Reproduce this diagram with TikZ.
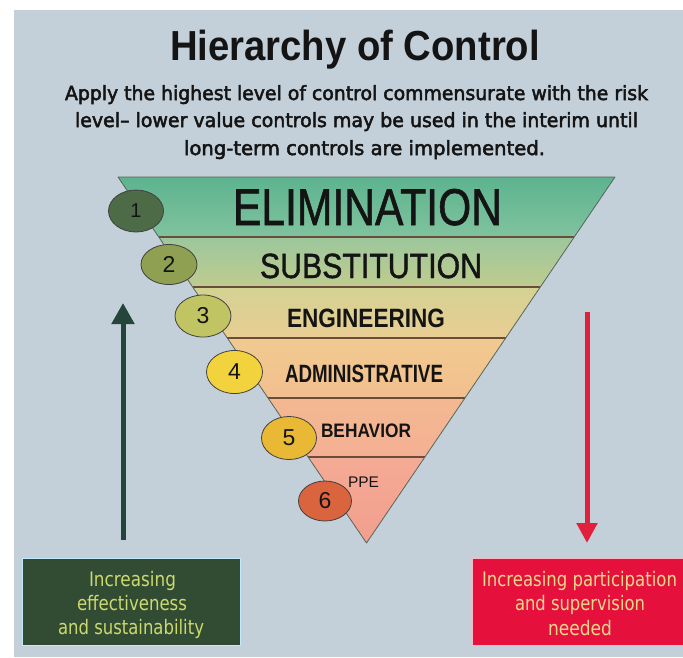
\documentclass[tikz,border=0pt]{standalone}
\usepackage{fontspec}
\usepackage{graphicx}
\setmainfont{Liberation Sans}
\newfontfamily\lib{Liberation Sans}
\newfontfamily\libfb[FakeBold=1.3]{Liberation Sans}
\newfontfamily\dv{DejaVu Sans}
\newfontfamily\dvfb[FakeBold=2.6]{DejaVu Sans}
\usetikzlibrary{arrows.meta,calc,shapes.geometric}

\definecolor{bg}{HTML}{C3D0DA}
\definecolor{bAt}{HTML}{5DB38F}\definecolor{bAb}{HTML}{80C39E}
\definecolor{bBt}{HTML}{9CC79C}\definecolor{bBb}{HTML}{BFCC8F}
\definecolor{bCt}{HTML}{D3D293}\definecolor{bCb}{HTML}{EACD92}
\definecolor{bDt}{HTML}{F1CA90}\definecolor{bDb}{HTML}{F2BF8E}
\definecolor{bEt}{HTML}{F3B991}\definecolor{bEb}{HTML}{F4AF93}
\definecolor{bFt}{HTML}{F4AB95}\definecolor{bFb}{HTML}{F39E8E}
\definecolor{eA}{HTML}{4D6B47}\definecolor{eB}{HTML}{8FA052}
\definecolor{eC}{HTML}{C0C462}\definecolor{eD}{HTML}{F2D33E}
\definecolor{eE}{HTML}{E9B935}\definecolor{eF}{HTML}{D9643E}
\definecolor{divcol}{HTML}{6B4C3B}
\definecolor{edgecol}{HTML}{55665A}
\definecolor{garrow}{HTML}{24463A}
\definecolor{rarrow}{HTML}{E0203C}
\definecolor{gboxcol}{HTML}{324C34}
\definecolor{rboxcol}{HTML}{E5103C}
\definecolor{gtext}{HTML}{CCD96E}
\definecolor{rtext}{HTML}{F2D88C}
\definecolor{txtdark}{HTML}{141414}

\newcommand{\fitw}[2]{\resizebox{#1}{\height}{#2}}

\begin{document}
\begin{tikzpicture}[x=1pt,y=-1pt,
  txt/.style={anchor=base west,inner sep=0pt,outer sep=0pt,text=txtdark},
  divider/.style={draw=divcol,line width=1.4pt},
  rung/.style={ellipse,draw=black!75,line width=0.8pt,inner sep=0pt,
    minimum width=56pt,minimum height=42pt,text=txtdark,
    font=\lib\fontsize{23}{23}\selectfont},
  arr/.style={line width=5pt,-{Triangle[length=21pt,width=22pt]}},
  box/.style={rectangle,anchor=north west,inner sep=0pt,minimum width=#1},
]
\useasboundingbox (0,0) rectangle (683,657);
\fill[white] (0,0) rectangle (683,657);
\fill[bg] (14,10) rectangle (683,657);

% title and subtitle
\node[txt] (title) at (170,60) {\fitw{370pt}{\lib\bfseries\fontsize{42}{42}\selectfont Hierarchy of Control}};
\node[txt] (sub1) at (65,100) {\fitw{583pt}{\dvfb\fontsize{19.5}{19.5}\selectfont Apply the highest level of control commensurate with the risk}};
\node[txt] (sub2) at (75,127) {\fitw{563pt}{\dvfb\fontsize{19.5}{19.5}\selectfont level– lower value controls may be used in the interim until}};
\node[txt] (sub3) at (184,155) {\fitw{361pt}{\dvfb\fontsize{19.5}{19.5}\selectfont long-term controls are implemented.}};

% triangle
\coordinate (TL) at (118,177);
\coordinate (TR) at (615,177);
\coordinate (AP) at (366.5,543);
\foreach \n/\t in {1/0.1639,2/0.3005,3/0.4399,4/0.6038,5/0.7650}{
  \coordinate (L\n) at ($(TL)!\t!(AP)$);
  \coordinate (R\n) at ($(TR)!\t!(AP)$);
}
\shade[top color=bAt,bottom color=bAb] (TL) -- (TR) -- (R1) -- (L1) -- cycle;
\shade[top color=bBt,bottom color=bBb] (L1) -- (R1) -- (R2) -- (L2) -- cycle;
\shade[top color=bCt,bottom color=bCb] (L2) -- (R2) -- (R3) -- (L3) -- cycle;
\shade[top color=bDt,bottom color=bDb] (L3) -- (R3) -- (R4) -- (L4) -- cycle;
\shade[top color=bEt,bottom color=bEb] (L4) -- (R4) -- (R5) -- (L5) -- cycle;
\shade[top color=bFt,bottom color=bFb] (L5) -- (R5) -- (AP) -- cycle;
\foreach \n in {1,...,5}{ \draw[divider] (L\n) -- (R\n); }
\draw[draw=edgecol,line width=0.8pt,line join=round] (TL) -- (TR) -- (AP) -- cycle;

% band labels
\node[txt] (elim) at (233,225) {\fitw{269pt}{\libfb\fontsize{51.7}{52}\selectfont ELIMINATION}};
\node[txt] (subs) at (260,278) {\fitw{222pt}{\libfb\fontsize{35}{35}\selectfont SUBSTITUTION}};
\node[txt] (engi) at (287,327) {\fitw{158pt}{\lib\bfseries\fontsize{26.5}{27}\selectfont ENGINEERING}};
\node[txt] (admi) at (285,382) {\fitw{158pt}{\lib\bfseries\fontsize{25}{25}\selectfont ADMINISTRATIVE}};
\node[txt] (beha) at (321,437) {\fitw{90pt}{\lib\bfseries\fontsize{19.5}{20}\selectfont BEHAVIOR}};
\node[txt] (ppe)  at (348,487) {\fitw{31pt}{\lib\fontsize{15.4}{16}\selectfont PPE}};

% numbered ellipses
\node[rung,fill=eA,minimum width=55pt,font=\lib\fontsize{20}{20}\selectfont] (n1) at (136,211) {1};
\node[rung,fill=eB,minimum height=40pt] (n2) at (169,264.5) {2};
\node[rung,fill=eC] (n3) at (203,316) {3};
\node[rung,fill=eD,minimum height=43pt] (n4) at (234.5,372) {4};
\node[rung,fill=eE,minimum width=55pt,minimum height=43pt] (n5) at (289,438) {5};
\node[rung,fill=eF,minimum width=53pt,minimum height=40pt] (n6) at (325,501) {6};

% arrows
\coordinate (gA) at (123,540);
\coordinate (gB) at (123,303);
\draw[arr,draw=garrow,fill=garrow] (gA) -- (gB);
\coordinate (rA) at (587,312);
\coordinate (rB) at (587,543);
\draw[arr,draw=rarrow,fill=rarrow,-{Triangle[length=20pt,width=20pt]}] (rA) -- (rB);

% bottom boxes
\node[box=218pt,minimum height=87pt,fill=gboxcol,draw=cyan!25!white,line width=0.6pt] (gbox) at (22,558) {};
\node[box=211pt,minimum height=87pt,fill=rboxcol,draw=white!70!rboxcol,line width=0.6pt] (rbox) at (472,558) {};

\node[txt,text=gtext] (g1) at (89,586) {\fitw{87pt}{\dv\fontsize{20}{20}\selectfont Increasing}};
\node[txt,text=gtext] (g2) at (77,610) {\fitw{110pt}{\dv\fontsize{20}{20}\selectfont effectiveness}};
\node[txt,text=gtext] (g3) at (58,634) {\fitw{146pt}{\dv\fontsize{20}{20}\selectfont and sustainability}};

\node[txt,text=rtext] (r1) at (482,586) {\fitw{195pt}{\dv\fontsize{20}{20}\selectfont Increasing participation}};
\node[txt,text=rtext] (r2) at (515,610) {\fitw{130pt}{\dv\fontsize{20}{20}\selectfont and supervision}};
\node[txt,text=rtext] (r3) at (548,635) {\fitw{64pt}{\dv\fontsize{20}{20}\selectfont needed}};
\end{tikzpicture}
\end{document}
